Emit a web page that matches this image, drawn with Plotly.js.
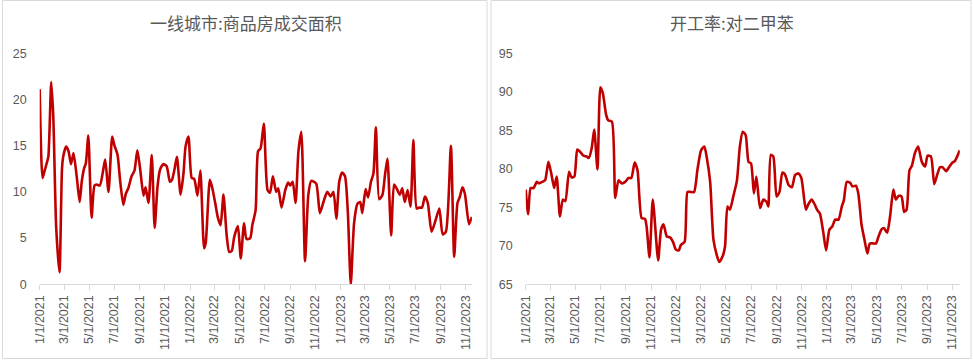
<!DOCTYPE html>
<html>
<head>
<meta charset="utf-8">
<script src="https://cdn.plot.ly/plotly-3.0.1.min.js"></script>
<style>html,body{margin:0;padding:0;background:#fff;}#chart{width:973px;height:360px;}</style>
</head>
<body>
<div id="chart"></div>
<script>
// Left panel: 一线城市:商品房成交面积
const areaDates = ["2021-01-01","2021-01-08","2021-01-13","2021-01-18","2021-01-22","2021-01-29","2021-02-03","2021-02-10","2021-02-18","2021-02-24","2021-02-27","2021-03-06","2021-03-12","2021-03-18","2021-03-24","2021-04-01","2021-04-08","2021-04-13","2021-04-19","2021-04-23","2021-04-29","2021-05-07","2021-05-14","2021-05-19","2021-05-27","2021-06-05","2021-06-09","2021-06-17","2021-06-26","2021-07-01","2021-07-09","2021-07-15","2021-07-23","2021-07-29","2021-08-04","2021-08-12","2021-08-19","2021-08-26","2021-09-02","2021-09-10","2021-09-15","2021-09-22","2021-09-30","2021-10-07","2021-10-14","2021-10-20","2021-10-28","2021-11-05","2021-11-13","2021-11-18","2021-11-24","2021-11-30","2021-12-09","2021-12-16","2021-12-21","2021-12-28","2022-01-05","2022-01-11","2022-01-19","2022-01-26","2022-02-04","2022-02-08","2022-02-18","2022-02-24","2022-03-03","2022-03-09","2022-03-16","2022-03-23","2022-03-31","2022-04-06","2022-04-12","2022-04-18","2022-04-27","2022-05-04","2022-05-12","2022-05-18","2022-05-27","2022-06-01","2022-06-09","2022-06-15","2022-06-21","2022-06-29","2022-07-08","2022-07-14","2022-07-21","2022-07-29","2022-08-03","2022-08-11","2022-08-20","2022-08-27","2022-09-01","2022-09-07","2022-09-14","2022-09-21","2022-09-28","2022-10-07","2022-10-15","2022-10-22","2022-11-03","2022-11-12","2022-11-22","2022-11-30","2022-12-08","2022-12-15","2022-12-22","2022-12-29","2023-01-05","2023-01-12","2023-01-19","2023-01-26","2023-02-03","2023-02-11","2023-02-18","2023-02-23","2023-03-03","2023-03-09","2023-03-16","2023-03-22","2023-03-28","2023-04-05","2023-04-13","2023-04-19","2023-04-25","2023-05-04","2023-05-11","2023-05-17","2023-05-25","2023-05-31","2023-06-06","2023-06-13","2023-06-20","2023-06-27","2023-07-05","2023-07-11","2023-07-18","2023-07-25","2023-08-01","2023-08-10","2023-08-19","2023-08-29","2023-09-06","2023-09-14","2023-09-26","2023-10-04","2023-10-12","2023-10-18","2023-10-24","2023-10-30","2023-11-09","2023-11-16"];
const areaValues = [21.1,11.5,12.3,13.1,13.8,21.9,18.1,6.2,1.3,12.4,13.8,14.9,14.4,13.0,14.2,11.6,8.9,11.1,12.6,13.1,16.1,7.2,10.7,10.8,10.7,12.6,13.5,10.0,16.0,15.1,14.0,11.3,8.6,9.8,10.4,11.7,12.3,14.5,12.4,9.6,10.5,8.8,14.0,6.1,10.6,12.4,13.0,12.8,11.1,11.3,12.4,13.8,9.7,12.0,14.9,16.0,11.5,11.4,9.6,12.3,3.9,4.5,11.3,10.4,8.8,7.3,6.4,9.7,5.2,3.5,3.6,5.1,6.3,2.8,6.6,4.9,5.0,6.4,8.0,14.4,14.7,17.4,10.2,9.9,11.7,10.0,10.4,8.3,10.2,11.0,10.7,11.1,8.8,14.4,16.5,2.5,9.7,11.2,10.9,7.7,9.1,10.0,9.5,10.0,7.1,11.1,12.1,11.7,7.7,0.0,6.6,8.7,8.9,7.7,10.3,9.4,11.1,12.0,17.0,9.2,9.7,11.8,13.6,5.3,10.8,10.4,9.7,10.4,8.9,10.2,8.4,15.6,8.2,8.3,8.3,9.5,8.8,5.7,6.8,8.2,5.4,5.7,15.0,3.0,8.8,9.5,10.5,9.8,6.5,7.3];

// Right panel: 开工率:对二甲苯
const pxDates = ["2021-01-01","2021-01-07","2021-01-13","2021-01-20","2021-01-28","2021-02-02","2021-02-10","2021-02-17","2021-02-25","2021-03-04","2021-03-11","2021-03-17","2021-03-25","2021-04-01","2021-04-07","2021-04-16","2021-04-22","2021-04-29","2021-05-06","2021-05-13","2021-05-21","2021-05-29","2021-06-03","2021-06-10","2021-06-16","2021-06-24","2021-07-01","2021-07-07","2021-07-15","2021-07-20","2021-07-29","2021-08-06","2021-08-14","2021-08-22","2021-08-30","2021-09-07","2021-09-14","2021-09-22","2021-09-29","2021-10-09","2021-10-17","2021-10-21","2021-10-28","2021-11-05","2021-11-18","2021-11-25","2021-12-01","2021-12-09","2021-12-17","2021-12-24","2021-12-31","2022-01-07","2022-01-12","2022-01-21","2022-01-28","2022-02-03","2022-02-13","2022-02-21","2022-03-02","2022-03-10","2022-03-16","2022-03-24","2022-04-01","2022-04-09","2022-04-15","2022-04-23","2022-04-29","2022-05-05","2022-05-11","2022-05-19","2022-05-28","2022-06-04","2022-06-11","2022-06-18","2022-06-25","2022-07-01","2022-07-08","2022-07-14","2022-07-23","2022-07-31","2022-08-08","2022-08-12","2022-08-18","2022-08-24","2022-09-01","2022-09-08","2022-09-15","2022-09-21","2022-09-30","2022-10-08","2022-10-16","2022-10-24","2022-10-31","2022-11-11","2022-11-17","2022-11-25","2022-12-02","2022-12-09","2022-12-15","2022-12-23","2022-12-30","2023-01-07","2023-01-14","2023-01-21","2023-01-29","2023-02-06","2023-02-11","2023-02-18","2023-02-26","2023-03-04","2023-03-12","2023-03-18","2023-03-26","2023-04-02","2023-04-09","2023-04-15","2023-04-24","2023-04-30","2023-05-06","2023-05-13","2023-05-19","2023-05-27","2023-06-03","2023-06-11","2023-06-17","2023-06-24","2023-07-01","2023-07-07","2023-07-13","2023-07-20","2023-07-26","2023-08-02","2023-08-10","2023-08-19","2023-08-27","2023-09-02","2023-09-10","2023-09-18","2023-09-24","2023-10-02","2023-10-08","2023-10-17","2023-10-25","2023-11-01","2023-11-07","2023-11-19"];
const pxValues = [77.3,74.1,77.5,77.5,78.3,78.1,78.3,78.5,80.9,79.4,77.5,79.0,73.8,76.0,75.8,79.6,78.9,79.0,82.5,82.2,81.7,81.6,81.4,82.7,85.1,79.9,90.6,89.8,87.0,86.3,86.1,76.2,78.5,78.1,78.3,78.8,78.8,80.8,79.8,73.6,73.5,72.5,68.5,76.0,68.1,72.1,72.8,71.2,71.1,70.5,69.5,69.4,70.1,70.5,77.0,77.0,77.0,79.8,82.4,82.9,81.4,78.3,70.8,68.8,67.9,68.6,69.9,75.1,74.7,76.4,78.5,82.9,84.8,84.4,80.9,80.7,76.8,79.0,74.9,76.0,75.7,75.1,81.8,81.6,76.4,77.0,79.5,79.3,77.9,77.6,79.2,79.4,78.8,74.7,75.4,76.0,75.4,74.6,74.2,71.8,69.4,72.1,72.5,73.4,73.4,75.1,75.9,78.3,78.2,77.7,77.8,76.8,72.7,70.8,69.0,70.3,70.3,70.3,71.2,72.1,72.3,71.7,73.8,77.3,76.0,76.5,76.4,74.4,74.7,79.8,80.4,82.0,82.9,80.9,80.3,81.7,81.6,78.0,79.0,80.2,80.2,79.7,80.3,80.8,81.0,82.4];

const titles = ["一线城市:商品房成交面积", "开工率:对二甲苯"];
const yTicksLeft = [0, 5, 10, 15, 20, 25];
const yTicksRight = [65, 70, 75, 80, 85, 90, 95];

const W = 973, H = 360;
const textColor = "#595959";
const lineColor = "#C00000";
const axisColor = "#D9D9D9";
const fontFam = "Liberation Sans, Arial, sans-serif";
const cjkFam = "Noto Sans CJK SC, sans-serif";

const lineStyle = {color: lineColor, width: 2.6, shape: "spline", smoothing: 0.6};

const traces = [
  {x: areaDates, y: areaValues, type: "scatter", mode: "lines", line: lineStyle, xaxis: "x", yaxis: "y", hoverinfo: "x+y"},
  {x: pxDates, y: pxValues, type: "scatter", mode: "lines", line: lineStyle, xaxis: "x2", yaxis: "y2", hoverinfo: "x+y"}
];

function xAxis(domain, rangeEnd) {
  return {
    type: "date", domain: domain, range: ["2021-01-01", rangeEnd],
    tick0: "2021-01-01", dtick: "M2", tickformat: "%-m/%-d/%Y", tickangle: -90,
    ticks: "outside", ticklen: 5, tickcolor: axisColor, tickwidth: 1,
    showline: true, linecolor: axisColor, linewidth: 1, showgrid: false, zeroline: false,
    tickfont: {family: fontFam, size: 12.5, color: textColor}, fixedrange: true
  };
}
function yAxis(domain, range, vals, anchor) {
  return {
    domain: domain, range: range, tickvals: vals, ticktext: vals.map(String),
    showgrid: false, zeroline: false, showline: false, ticks: "",
    ticklabelstandoff: 12, anchor: anchor,
    tickfont: {family: fontFam, size: 12.5, color: textColor}, fixedrange: true
  };
}

const yDom = [1 - 284.3 / H, 1 - 53.3 / H];
const layout = {
  width: W, height: H,
  margin: {l: 0, r: 0, t: 0, b: 0},
  paper_bgcolor: "#ffffff", plot_bgcolor: "rgba(0,0,0,0)",
  showlegend: false,
  xaxis: Object.assign(xAxis([39.7 / W, 471.9 / W], "2023-11-16"), {anchor: "y"}),
  yaxis: yAxis(yDom, [0, 25], yTicksLeft, "x"),
  xaxis2: Object.assign(xAxis([525.7 / W, 959.8 / W], "2023-11-19"), {anchor: "y2"}),
  yaxis2: yAxis(yDom, [65, 95], yTicksRight, "x2"),
  shapes: [
    {type: "rect", xref: "paper", yref: "paper", x0: 2.5 / W, x1: 487 / W, y0: 1 - 358.5 / H, y1: 1 - 0.5 / H, line: {color: axisColor, width: 1}},
    {type: "rect", xref: "paper", yref: "paper", x0: 491 / W, x1: 971 / W, y0: 1 - 358.5 / H, y1: 1 - 0.5 / H, line: {color: axisColor, width: 1}}
  ],
  annotations: [
    {text: titles[0], xref: "paper", yref: "paper", x: 245.5 / W, y: 1 - 22.5 / H, xanchor: "center", yanchor: "middle", showarrow: false, font: {family: cjkFam, size: 17, color: textColor}},
    {text: titles[1], xref: "paper", yref: "paper", x: 732 / W, y: 1 - 22.5 / H, xanchor: "center", yanchor: "middle", showarrow: false, font: {family: cjkFam, size: 17, color: textColor}}
  ]
};

Plotly.newPlot("chart", traces, layout, {displayModeBar: false, staticPlot: true});
</script>
</body>
</html>
